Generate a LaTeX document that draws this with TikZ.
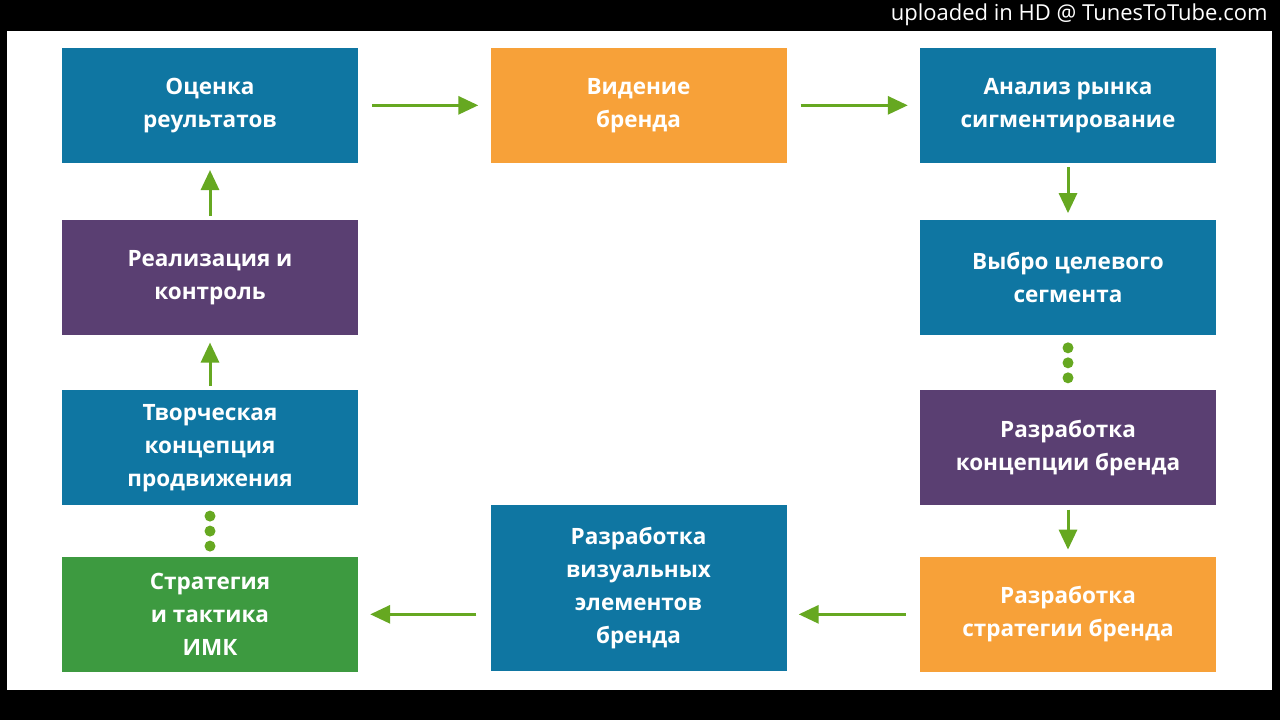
\documentclass[tikz,border=0pt]{standalone}
\usepackage{fontspec}
\setmainfont{Open Sans}
\usetikzlibrary{positioning,arrows.meta,calc}
\definecolor{cBlue}{HTML}{0F76A2}
\definecolor{cOrange}{HTML}{F7A139}
\definecolor{cPurple}{HTML}{5A3F72}
\definecolor{cGreen}{HTML}{3D9A40}
\definecolor{cArrow}{HTML}{66A821}
\tikzset{
  base/.style   ={draw=none, align=center, text=white, inner sep=0pt,
                  minimum width=296pt, minimum height=115pt,
                  font=\fontsize{22.5}{33}\selectfont\bfseries},
  blue/.style   ={base, fill=cBlue},
  orange/.style ={base, fill=cOrange},
  purple/.style ={base, fill=cPurple},
  green/.style  ={base, fill=cGreen},
  flow/.style   ={-{Triangle[length=20pt,width=18pt]}, line width=3pt, draw=cArrow,
                  shorten <=14pt, shorten >=12pt},
  vflow/.style  ={flow, shorten <=4pt, shorten >=7pt},
  dot/.style    ={circle, fill=cArrow, inner sep=0pt, minimum size=11pt},
}
\begin{document}
\begin{tikzpicture}[x=1pt,y=-1pt]

  % ---- frame ----
  \fill[black] (0,0) rectangle (1280,720);
  \fill[white] (7,31) rectangle (1272,690);
  \node[text=white, anchor=east, font=\fontsize{22}{24}\selectfont] (upl) at (1271,14)
    {uploaded in HD @ TunesToTube.com};

  % ---- left column ----
  \node[blue]   (eval)     at (210,105)   {Оценка\\реультатов};
  \node[purple] (real)     at (210,277.5) {Реализация и\\контроль};
  \node[blue]   (creative) at (210,447.5) {Творческая\\концепция\\продвижения};
  \node[green]  (imk)      at (210,614)   {Стратегия\\и тактика\\ИМК};

  % ---- middle column ----
  \node[orange] (vision)   at (638.5,105) {Видение\\бренда};
  \node[blue, minimum height=166pt] (visual) at (638.5,588)
    {Разработка\\визуальных\\элементов\\бренда};

  % ---- right column ----
  \node[blue]   (market)   at (1068,105)   {Анализ рынка\\сигментирование};
  \node[blue]   (target)   at (1068,277.5) {Выбро целевого\\сегмента};
  \node[purple] (concept)  at (1068,447.5) {Разработка\\концепции бренда};
  \node[orange] (strategy) at (1068,614)   {Разработка\\стратегии бренда};

  % ---- edges ----
  \draw[flow] (eval.east) -- (vision.west);
  \draw[flow] (vision.east) -- (market.west);
  \draw[vflow] (market.south) -- (target.north);
  \draw[vflow] (concept.south) -- (strategy.north);
  \draw[flow] (strategy.west) -- (strategy.west -| visual.east);
  \draw[flow] (visual.west |- imk.east) -- (imk.east);
  \draw[vflow] (real.north) -- (eval.south);
  \draw[vflow] (creative.north) -- (real.south);

  % ---- dotted links ----
  \foreach \a/\b in {target/concept, imk/creative}
    \foreach \k in {-15,0,15}
      \node[dot] at ($($(\a.south)!0.5!(\b.north)$)+(0,\k)$) {};

\end{tikzpicture}
\end{document}
